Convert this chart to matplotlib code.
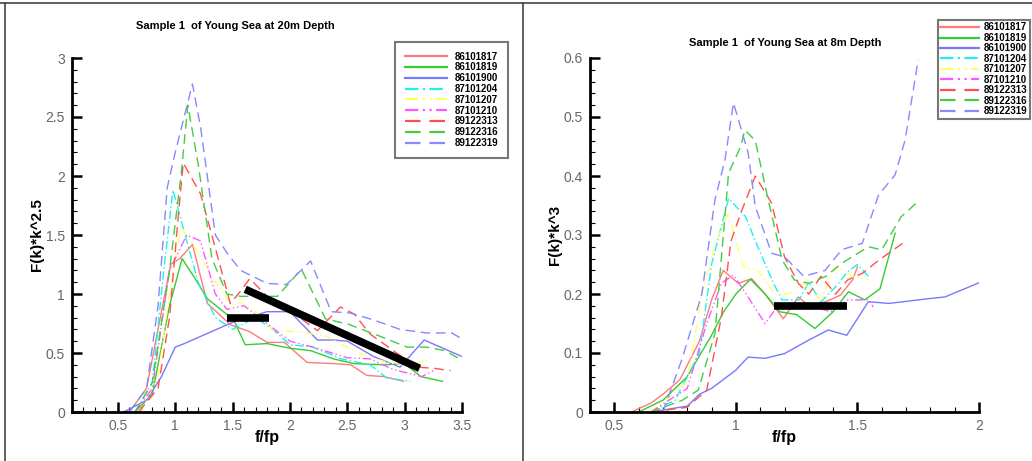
import matplotlib
matplotlib.use("Agg")
import matplotlib.pyplot as plt
from matplotlib.ticker import MultipleLocator, FuncFormatter
from matplotlib.lines import Line2D

# ---- dati ----
series_names = ["86101817", "86101819", "86101900", "87101204", "87101207",
                "87101210", "89122313", "89122316", "89122319"]

# pannello sinistro: 20 m
left_x = [
    [0.6, 0.75, 0.85, 0.96, 1.04, 1.15, 1.28, 1.48, 1.65, 1.8, 1.95, 2.15, 2.38, 2.53, 2.67, 2.82, 2.99],
    [0.65, 0.8, 0.95, 1.06, 1.18, 1.28, 1.51, 1.61, 1.8, 2.0, 2.18, 2.38, 2.56, 2.82, 3.0, 3.14, 3.33],
    [0.55, 0.75, 0.88, 1.0, 1.08, 1.5, 1.8, 2.0, 2.24, 2.38, 2.5, 2.73, 2.96, 3.17, 3.5],
    [0.65, 0.8, 0.9, 0.98, 1.1, 1.2, 1.35, 1.5, 1.7, 1.85, 2.0, 2.2, 2.45, 2.7, 2.84, 3.05],
    [0.7, 0.85, 0.95, 1.05, 1.2, 1.35, 1.5, 1.57, 1.7, 1.86, 2.09, 2.32, 2.5, 2.7, 2.9, 3.05, 3.2],
    [0.65, 0.8, 0.95, 1.1, 1.22, 1.35, 1.45, 1.6, 1.8, 2.0, 2.2, 2.5, 2.7, 2.9, 3.15, 3.25],
    [0.68, 0.85, 0.95, 1.03, 1.07, 1.22, 1.33, 1.48, 1.55, 1.65, 1.8, 2.0, 2.24, 2.44, 2.56, 2.7, 2.93, 3.11, 3.26, 3.4],
    [0.65, 0.8, 0.95, 1.05, 1.11, 1.2, 1.32, 1.45, 1.57, 1.7, 1.89, 2.1, 2.31, 2.52, 2.79, 3.02, 3.19, 3.35, 3.48],
    [0.6, 0.75, 0.85, 0.93, 1.0, 1.15, 1.22, 1.35, 1.45, 1.57, 1.8, 1.97, 2.18, 2.36, 2.52, 2.73, 2.96, 3.19, 3.41, 3.5],
]
left_y = [
    [0.0, 0.2, 0.7, 1.25, 1.3, 1.42, 0.92, 0.74, 0.68, 0.59, 0.59, 0.42, 0.41, 0.40, 0.31, 0.30, 0.26],
    [0.0, 0.15, 0.9, 1.30, 1.12, 0.96, 0.78, 0.57, 0.58, 0.54, 0.52, 0.45, 0.41, 0.40, 0.41, 0.30, 0.26],
    [0.0, 0.10, 0.3, 0.55, 0.58, 0.76, 0.85, 0.85, 0.61, 0.61, 0.60, 0.47, 0.38, 0.61, 0.47],
    [0.0, 0.25, 1.2, 1.88, 1.45, 1.1, 0.8, 0.70, 0.80, 0.70, 0.57, 0.55, 0.45, 0.40, 0.29, 0.26],
    [0.0, 0.3, 1.0, 1.57, 1.35, 1.1, 0.9, 0.93, 0.85, 0.69, 0.68, 0.64, 0.55, 0.46, 0.41, 0.40, 0.44],
    [0.0, 0.2, 1.2, 1.5, 1.45, 1.0, 0.87, 0.9, 0.75, 0.6, 0.55, 0.46, 0.45, 0.36, 0.30, 0.35],
    [0.0, 0.2, 0.8, 1.7, 2.11, 1.85, 1.46, 0.92, 1.0, 1.13, 0.98, 0.86, 0.69, 0.89, 0.83, 0.66, 0.50, 0.38, 0.37, 0.35],
    [0.0, 0.25, 1.2, 2.0, 2.6, 2.1, 1.3, 1.0, 0.98, 0.98, 0.98, 1.21, 0.79, 0.74, 0.64, 0.55, 0.55, 0.52, 0.45],
    [0.0, 0.2, 0.9, 1.9, 2.2, 2.78, 2.42, 1.5, 1.35, 1.2, 1.09, 1.08, 1.28, 0.85, 0.84, 0.78, 0.70, 0.67, 0.67, 0.62],
]

# pannello destro: 8 m
right_x = [
    [0.57, 0.65, 0.7, 0.77, 0.85, 0.9, 0.948, 1.01, 1.065, 1.12, 1.195, 1.257, 1.3, 1.37, 1.43, 1.48, 1.5],
    [0.6, 0.7, 0.8, 0.9, 0.95, 1.0, 1.06, 1.12, 1.18, 1.25, 1.325, 1.4, 1.463, 1.53, 1.593, 1.655],
    [0.65, 0.8, 0.85, 0.9, 1.0, 1.05, 1.12, 1.2, 1.3, 1.38, 1.456, 1.545, 1.63, 1.79, 1.86, 2.0],
    [0.65, 0.75, 0.85, 0.9, 0.97, 1.04, 1.09, 1.155, 1.19, 1.26, 1.3, 1.35, 1.41, 1.46, 1.5, 1.545],
    [0.65, 0.8, 0.86, 0.92, 0.97, 1.03, 1.09, 1.16, 1.215, 1.28, 1.35, 1.41, 1.48, 1.545],
    [0.65, 0.8, 0.88, 0.94, 0.99, 1.05, 1.12, 1.175, 1.257, 1.325, 1.39, 1.46, 1.545, 1.565],
    [0.65, 0.8, 0.88, 0.94, 0.98, 1.02, 1.08, 1.147, 1.2, 1.257, 1.3, 1.35, 1.41, 1.46, 1.52, 1.59, 1.7],
    [0.65, 0.78, 0.845, 0.914, 0.97, 1.02, 1.037, 1.08, 1.13, 1.19, 1.24, 1.3, 1.37, 1.435, 1.545, 1.6, 1.68, 1.75],
    [0.7, 0.777, 0.86, 0.914, 0.955, 0.99, 1.05, 1.08, 1.147, 1.2, 1.28, 1.367, 1.435, 1.52, 1.587, 1.655, 1.696, 1.75],
]
right_y = [
    [0.0, 0.015, 0.03, 0.055, 0.12, 0.19, 0.24, 0.218, 0.226, 0.20, 0.158, 0.195, 0.18, 0.187, 0.198, 0.224, 0.246],
    [0.0, 0.02, 0.06, 0.13, 0.17, 0.2, 0.225, 0.2, 0.17, 0.165, 0.1415, 0.17, 0.204, 0.19, 0.209, 0.303],
    [0.0, 0.01, 0.03, 0.04, 0.071, 0.093, 0.091, 0.099, 0.122, 0.139, 0.13, 0.187, 0.184, 0.192, 0.195, 0.219],
    [0.0, 0.02, 0.1, 0.25, 0.362, 0.331, 0.28, 0.218, 0.19, 0.19, 0.22, 0.187, 0.212, 0.238, 0.25, 0.23],
    [0.0, 0.05, 0.2, 0.29, 0.337, 0.246, 0.24, 0.2, 0.2, 0.218, 0.19, 0.246, 0.23, 0.224],
    [0.0, 0.04, 0.15, 0.218, 0.232, 0.195, 0.15, 0.181, 0.175, 0.178, 0.17, 0.19, 0.19, 0.178],
    [0.0, 0.008, 0.037, 0.16, 0.29, 0.337, 0.4, 0.354, 0.263, 0.218, 0.2, 0.23, 0.2, 0.224, 0.235, 0.258, 0.29],
    [0.0, 0.02, 0.037, 0.133, 0.405, 0.45, 0.478, 0.46, 0.365, 0.258, 0.224, 0.218, 0.23, 0.252, 0.28, 0.275, 0.331, 0.357],
    [0.0, 0.088, 0.2, 0.36, 0.427, 0.524, 0.44, 0.348, 0.269, 0.263, 0.23, 0.24, 0.275, 0.286, 0.368, 0.402, 0.461, 0.597],
]

# segmenti neri di riferimento
left_bar_x = [1.45, 1.82]
left_bar_y = [0.80, 0.80]
left_slope_x = [1.61, 3.13]
left_slope_y = [1.04, 0.37]
right_bar_x = [1.158, 1.456]
right_bar_y = [0.179, 0.179]

colors = ["#ff7a7a", "#33cc33", "#7878ff", "#22eeee", "#ffff66",
          "#ff55ff", "#ff5050", "#44cc44", "#8888ff"]
styles = ["-", "-", "-", (0, (6, 2, 1, 2)), (0, (6, 2, 1, 2, 1, 2)),
          (0, (6, 2, 1, 2, 1, 2)), (0, (7, 4)), (0, (7, 4)), (0, (7, 4))]


def fmt(v, pos):
    s = "%g" % round(v, 3)
    return s


def setup_axes(ax, xlim, ylim, xmaj, xmin, ymaj, ymin, ylabel):
    ax.set_xlim(*xlim)
    ax.set_ylim(*ylim)
    for s in ["top", "right"]:
        ax.spines[s].set_visible(False)
    for s in ["left", "bottom"]:
        ax.spines[s].set_linewidth(2.0)
    ax.xaxis.set_major_locator(MultipleLocator(xmaj))
    ax.xaxis.set_minor_locator(MultipleLocator(xmin))
    ax.yaxis.set_major_locator(MultipleLocator(ymaj))
    ax.yaxis.set_minor_locator(MultipleLocator(ymin))
    ax.xaxis.set_major_formatter(FuncFormatter(fmt))
    ax.yaxis.set_major_formatter(FuncFormatter(fmt))
    ax.tick_params(which="major", direction="in", length=7, width=1.8,
                   labelsize=10, labelcolor="#666666", pad=5)
    ax.tick_params(which="minor", direction="in", length=3.5, width=0.8)
    ax.set_xlabel("f/fp", fontsize=11.5, fontweight="bold", labelpad=-2)
    ax.set_ylabel(ylabel, fontsize=11, fontweight="bold", labelpad=1)


plt.rcParams["font.family"] = ["Liberation Sans", "DejaVu Sans"]

fig = plt.figure(figsize=(10.32, 4.61), dpi=100)
ax1 = fig.add_axes([72 / 1032, 49 / 461, 390 / 1032, 354 / 461])
ax2 = fig.add_axes([590 / 1032, 49 / 461, 389 / 1032, 354 / 461])

for i in range(len(series_names)):
    ax1.plot(left_x[i], left_y[i], color=colors[i], linestyle=styles[i],
             linewidth=1.0, label=series_names[i])
    ax2.plot(right_x[i], right_y[i], color=colors[i], linestyle=styles[i],
             linewidth=1.0, label=series_names[i])

ax1.plot(left_bar_x, left_bar_y, color="black", linewidth=5.5, solid_capstyle="butt")
ax1.plot(left_slope_x, left_slope_y, color="black", linewidth=5.5, solid_capstyle="butt")
ax2.plot(right_bar_x, right_bar_y, color="black", linewidth=5.5, solid_capstyle="butt")

setup_axes(ax1, (0.1, 3.5), (0, 3), 0.5, 0.1, 0.5, 0.1, "F(k)*k^2.5")
setup_axes(ax2, (0.4, 2.0), (0, 0.6), 0.5, 0.1, 0.1, 0.02, "F(k)*k^3")

fig.text(235 / 1032, 1 - 26 / 461, "Sample 1  of Young Sea at 20m Depth",
         ha="center", va="center", fontsize=8, fontweight="bold")
fig.text(785 / 1032, 1 - 43 / 461, "Sample 1  of Young Sea at 8m Depth",
         ha="center", va="center", fontsize=8, fontweight="bold")

handles = [Line2D([], [], color=colors[i], linestyle=styles[i], linewidth=1.6)
           for i in range(len(series_names))]
leg_kw = dict(loc="upper left", frameon=True, fancybox=False,
              handlelength=4.3, handletextpad=0.8, labelspacing=0.08,
              borderaxespad=0, borderpad=1.0, prop={"weight": "bold", "size": 7})
leg1 = fig.legend(handles, series_names, bbox_to_anchor=(395 / 1032, 1 - 42 / 461),
                  bbox_transform=fig.transFigure, **leg_kw)
leg2 = fig.legend(handles, series_names, bbox_to_anchor=(938 / 1032, 1 - 20 / 461),
                  bbox_transform=fig.transFigure,
                  **dict(leg_kw, borderpad=0.25, handlelength=4.0, handletextpad=0.5,
                         labelspacing=0.05))
for lg in (leg1, leg2):
    lg.get_frame().set_edgecolor("#555555")
    lg.get_frame().set_linewidth(1.5)

# cornice della finestra
fig.add_artist(Line2D([0, 1], [1 - 3 / 461, 1 - 3 / 461], color="#444444", linewidth=1.2))
fig.add_artist(Line2D([5 / 1032, 5 / 1032], [0, 1 - 3 / 461], color="#444444", linewidth=1.2))
fig.add_artist(Line2D([523 / 1032, 523 / 1032], [0, 1 - 3 / 461], color="#444444", linewidth=1.2))

fig.savefig("out.png", dpi=100)
